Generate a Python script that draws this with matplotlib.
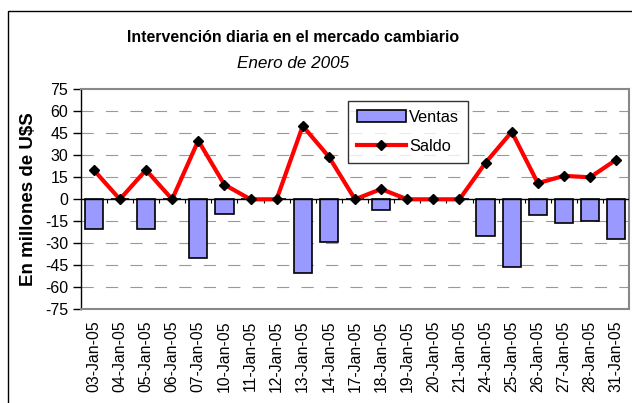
import matplotlib
matplotlib.use("Agg")
import matplotlib.pyplot as plt
from matplotlib.lines import Line2D
from matplotlib.patches import Patch, Rectangle
import numpy as np

plt.rcParams['font.family'] = ['Liberation Sans', 'DejaVu Sans']

# datos
fechas = ["03-Jan-05", "04-Jan-05", "05-Jan-05", "06-Jan-05", "07-Jan-05", "10-Jan-05",
          "11-Jan-05", "12-Jan-05", "13-Jan-05", "14-Jan-05", "17-Jan-05", "18-Jan-05",
          "19-Jan-05", "20-Jan-05", "21-Jan-05", "24-Jan-05", "25-Jan-05", "26-Jan-05",
          "27-Jan-05", "28-Jan-05", "31-Jan-05"]
ventas = [-20, 0, -20, 0, -40, -10, 0, 0, -50, -29, 0, -7,
          0, 0, 0, -25, -46, -11, -16, -15, -27]
saldo = [20, 0, 20, 0, 40, 10, 0, 0, 50, 29, 0, 7,
         0, 0, 0, 25, 46, 11, 16, 15, 27]
y_ticks = list(range(-75, 76, 15))

x = np.arange(len(fechas))

fig = plt.figure(figsize=(6.32, 4.03), dpi=100)
ax = fig.add_axes([0.1277, 0.2325, 0.868, 0.5459])

# marco exterior del grafico
fig.patches.append(Rectangle((8/632, -0.1), 1.2, 1 - 11/403 + 0.1, transform=fig.transFigure,
                             fill=False, edgecolor="black", linewidth=1.0, clip_on=False))

for yt in y_ticks[1:-1]:
    if yt != 0:
        ax.axhline(yt, color="#999999", lw=0.8, linestyle=(0, (11, 11)), zorder=0)

ax.bar(x, ventas, width=0.7, color="#9999ff", edgecolor="black", linewidth=1.2, zorder=2)
ax.axhline(0, color="black", lw=1.0, zorder=3)
# marcas entre categorias sobre el eje cero
ax.vlines(x[:-1] + 0.5, -2.8, 0, color="black", lw=0.8, zorder=3)
ax.plot(x, saldo, color="#ff0000", lw=3.0, marker="D", markersize=5.5,
        markerfacecolor="black", markeredgecolor="black", zorder=4)

ax.set_xlim(-0.5, len(fechas) - 0.5)
ax.set_ylim(-75, 75)
ax.set_yticks(y_ticks)
ax.set_yticklabels([str(v) for v in y_ticks], fontsize=11.5)
ax.tick_params(axis="y", direction="out", length=6, width=1, pad=3)
ax.set_xticks(x)
ax.set_xticklabels(fechas, rotation=90, fontsize=11.3)
ax.tick_params(axis="x", length=0, pad=8)

for s in ["top", "right", "bottom"]:
    ax.spines[s].set_color("#888888")
    ax.spines[s].set_linewidth(1.5)
ax.spines["left"].set_color("black")
ax.spines["left"].set_linewidth(1.0)

ax.set_ylabel("En millones de U$S", fontsize=13.5, fontweight="bold", labelpad=6)

fig.text(0.464, 1 - 38/403, "Intervención diaria en el mercado cambiario",
         ha="center", va="center", fontsize=11.4, fontweight="bold")
fig.text(0.464, 1 - 63/403, "Enero de 2005", ha="center", va="center",
         fontsize=12.3, fontstyle="italic")

handles = [Patch(facecolor="#9999ff", edgecolor="black", linewidth=1.2),
           Line2D([0], [0], color="#ff0000", lw=3.0, marker="D", markersize=5.5,
                  markerfacecolor="black", markeredgecolor="black")]
leg = ax.legend(handles, ["Ventas", "Saldo"], loc="upper left",
                bbox_to_anchor=((347.7 - 80.7) / 548.6, 1 - (100.7 - 89.3) / 220),
                fontsize=11.8, frameon=True, fancybox=False, edgecolor="black",
                handlelength=3.0, handletextpad=0.2, labelspacing=0.85,
                borderpad=0.55, borderaxespad=0)
leg.get_frame().set_linewidth(1.0)

fig.savefig("out.png", dpi=100)
